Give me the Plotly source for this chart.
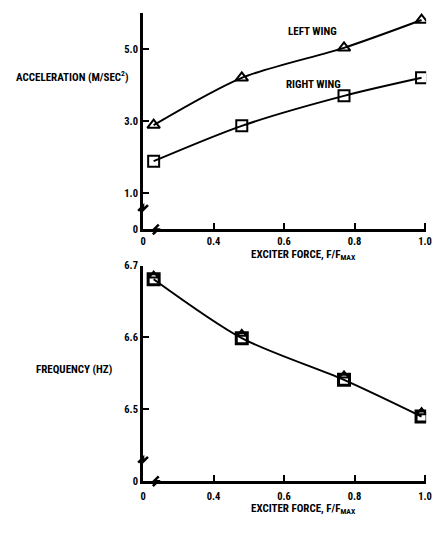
import plotly.graph_objects as go

W, H = 439, 535

# ---- data ----
force = [0.23, 0.48, 0.77, 0.99]
accel_left = [2.89, 4.2, 5.03, 5.8]
accel_right = [1.89, 2.87, 3.7, 4.2]
freq_left = [6.686, 6.605, 6.547, 6.496]
freq_right = [6.681, 6.599, 6.541, 6.490]

x_tickvals = [0.2, 0.4, 0.6, 0.8, 1.0]
x_ticktext = ["0", "0.4", "0.6", "0.8", "1.0"]
acc_tickvals = [0, 1.0, 3.0, 5.0]
acc_ticktext = ["0", "1.0", "3.0", "5.0"]
freq_tickvals = [6.4, 6.5, 6.6, 6.7]
freq_ticktext = ["0", "6.5", "6.6", "6.7"]

FONT = "Liberation Sans Narrow, Arial Narrow, Roboto Condensed, Liberation Sans, sans-serif"

def px(x):
    return x / W

def py(y):
    return 1 - y / H

fig = go.Figure()

line = dict(color="black", width=2, shape="spline", smoothing=0.8)

fig.add_trace(go.Scatter(x=force, y=accel_left, mode="lines+markers", line=line,
                         marker=dict(symbol="triangle-up-open", size=11, color="black", line=dict(width=2)),
                         xaxis="x", yaxis="y", showlegend=False))
fig.add_trace(go.Scatter(x=force, y=accel_right, mode="lines+markers", line=line,
                         marker=dict(symbol="square-open", size=11, color="black", line=dict(width=2)),
                         xaxis="x", yaxis="y", showlegend=False))
fig.add_trace(go.Scatter(x=force, y=freq_right, mode="lines+markers", line=line,
                         marker=dict(symbol="square-open", size=11, color="black", line=dict(width=3)),
                         xaxis="x2", yaxis="y2", showlegend=False))
fig.add_trace(go.Scatter(x=force, y=freq_left, mode="markers",
                         marker=dict(symbol="triangle-up-open", size=8, color="black", line=dict(width=2)),
                         xaxis="x2", yaxis="y2", showlegend=False))

axis_common = dict(showgrid=False, zeroline=False, showline=True, linecolor="black", linewidth=3,
                   ticks="inside", ticklen=6, tickwidth=2, tickcolor="black",
                   tickfont=dict(family=FONT, size=10.5, color="black", weight="bold"))

xdom = [px(143), px(432)]
xrange = [0.2, 1.003]
fig.update_layout(
    width=W, height=H, margin=dict(l=0, r=0, t=0, b=0),
    paper_bgcolor="white", plot_bgcolor="white",
    xaxis=dict(domain=xdom, range=xrange, tickvals=x_tickvals, ticktext=x_ticktext,
               anchor="y", ticklabelstandoff=0, **axis_common),
    yaxis=dict(domain=[py(229), py(7)], range=[0, 6.0], tickvals=acc_tickvals, ticktext=acc_ticktext,
               anchor="x", **axis_common),
    xaxis2=dict(domain=xdom, range=xrange, tickvals=x_tickvals, ticktext=x_ticktext,
                anchor="y2", ticklabelstandoff=3, **axis_common),
    yaxis2=dict(domain=[py(487), py(266)], range=[6.4, 6.7], tickvals=freq_tickvals, ticktext=freq_ticktext,
                anchor="x2", **axis_common),
)

def ann(text, x, y, size=11, xanchor="center"):
    fig.add_annotation(text="<b>" + text + "</b>", x=px(x), y=py(y), xref="paper", yref="paper",
                       showarrow=False, xanchor=xanchor, yanchor="middle",
                       font=dict(family=FONT, size=size, color="black"))

ann("ACCELERATION (M/SEC<sup>2</sup>)", 11, 72, xanchor="left")
ann("FREQUENCY (HZ)", 32, 373, xanchor="left")
ann("LEFT WING", 316, 26)
ann("RIGHT WING", 317, 80)
ann("EXCITER FORCE, F/F<sub>MAX</sub>", 307, 255)
ann("EXCITER FORCE, F/F<sub>MAX</sub>", 307, 516)

# axis break symbols
def brk_y(xc, yc):
    path = (f"M {px(xc-5)},{py(yc+3)} L {px(xc)},{py(yc-2)} L {px(xc)},{py(yc+2)} L {px(xc+5)},{py(yc-3)}")
    fig.add_shape(type="path", path=path, xref="paper", yref="paper",
                  line=dict(color="black", width=2.5))

def brk_x(xc, yc):
    path = (f"M {px(xc-3)},{py(yc+5)} L {px(xc+2)},{py(yc)} L {px(xc-2)},{py(yc)} L {px(xc+3)},{py(yc-5)}")
    fig.add_shape(type="path", path=path, xref="paper", yref="paper",
                  line=dict(color="black", width=2.5))

brk_y(143, 207)
brk_x(156, 229)
brk_y(143, 465)
brk_x(156, 487)

fig.write_html("out.html")
